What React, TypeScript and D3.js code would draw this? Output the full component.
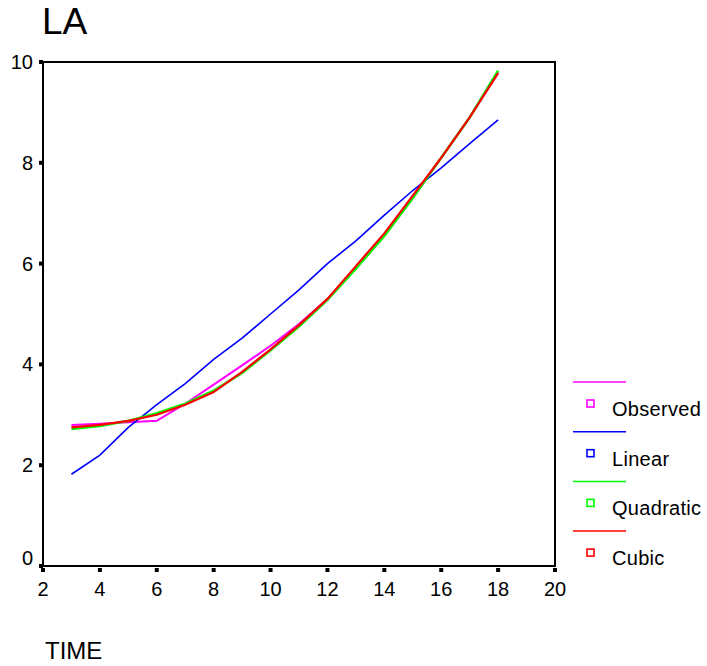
import React from 'react';
import * as d3 from 'd3';

const time = [3, 4, 5, 6, 7, 8, 9, 10, 11, 12, 13, 14, 15, 16, 17, 18];
const observed = [2.8, 2.82, 2.85, 2.88, 3.22, 3.6, 3.98, 4.37, 4.8, 5.3, 5.9, 6.55, 7.3, 8.1, 8.9, 9.8];
const linear = [1.82, 2.2, 2.75, 3.2, 3.62, 4.1, 4.52, 5.0, 5.48, 6.0, 6.45, 6.96, 7.45, 7.9, 8.38, 8.85];
const quadratic = [2.72, 2.78, 2.88, 3.03, 3.22, 3.48, 3.83, 4.28, 4.75, 5.28, 5.9, 6.55, 7.3, 8.1, 8.9, 9.83];
const cubic = [2.75, 2.8, 2.88, 3.0, 3.2, 3.45, 3.85, 4.3, 4.78, 5.3, 5.95, 6.6, 7.35, 8.1, 8.9, 9.78];

const xTicks = [2, 4, 6, 8, 10, 12, 14, 16, 18, 20];
const yTicks = [0, 2, 4, 6, 8, 10];

const series = [
  {name: 'Observed', values: observed, color: '#ff00ff', width: 2},
  {name: 'Linear', values: linear, color: '#0000ff', width: 1.6},
  {name: 'Quadratic', values: quadratic, color: '#00ff00', width: 2.5},
  {name: 'Cubic', values: cubic, color: '#ff0000', width: 2.2},
];

const left = 43, right = 555, top = 62, bottom = 566;
const font = 'Liberation Sans, Arial, sans-serif';

export default function App() {
  const x = d3.scaleLinear().domain([2, 20]).range([left, right]);
  const y = d3.scaleLinear().domain([0, 10]).range([bottom, top]);

  const line = (vals: number[]) =>
    d3.line<number>().x((d, i) => x(time[i])).y(d => y(d))(vals) || '';

  return (
    <svg width={707} height={666} style={{position: 'absolute', left: 0, top: 0}}>
      <rect width={707} height={666} fill="#fff" />
      <text x={42} y={34} fontSize={37} fontFamily={font}>LA</text>

      {/* plot frame */}
      <rect x={left} y={top} width={right - left} height={bottom - top} fill="none" stroke="#000" strokeWidth={2} />

      {yTicks.map(t => (
        <g key={'y' + t}>
          <rect x={left - 4} y={y(t) - 2} width={4} height={4} fill="#000" />
          <text x={33} y={t === 0 ? y(t) - 1 : y(t) + 7} textAnchor="end" fontSize={20} fontFamily={font}>{t}</text>
        </g>
      ))}
      {xTicks.map(t => (
        <g key={'x' + t}>
          <rect x={x(t) - 2} y={bottom + 2} width={4} height={4} fill="#000" />
          <text x={x(t)} y={596} textAnchor="middle" fontSize={20} fontFamily={font}>{t}</text>
        </g>
      ))}

      {series.map(s => (
        <path key={s.name} d={line(s.values)} fill="none" stroke={s.color} strokeWidth={s.width} />
      ))}

      {series.map((s, i) => {
        const ly = 382 + i * 49.7;
        return (
          <g key={'leg' + s.name}>
            <line x1={573} x2={626} y1={ly} y2={ly} stroke={s.color} strokeWidth={1.5} />
            <rect x={587} y={ly + 18} width={7} height={7} fill="none" stroke={s.color} strokeWidth={1.6} />
            <text x={612} y={ly + 34} fontSize={20} letterSpacing={0.3} fontFamily={font}>{s.name}</text>
          </g>
        );
      })}

      <text x={45} y={659} fontSize={24} fontFamily={font}>TIME</text>
    </svg>
  );
}
